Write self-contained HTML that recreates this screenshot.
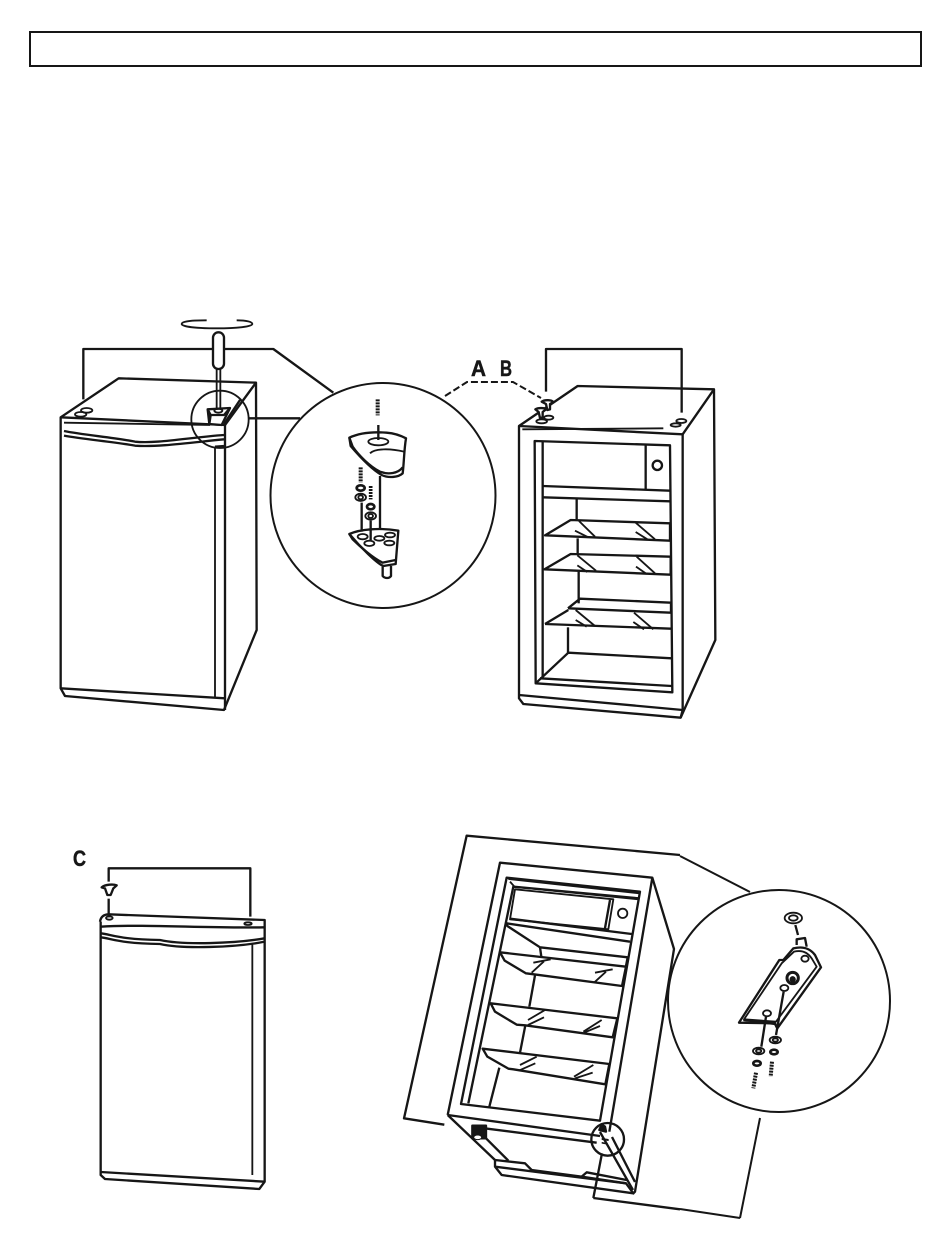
<!DOCTYPE html>
<html><head><meta charset="utf-8"><style>
html,body{margin:0;padding:0;background:#fff;width:950px;height:1248px;overflow:hidden}
svg{display:block}
.z{fill:none;stroke:#161616;stroke-width:7;stroke-linejoin:round;stroke-linecap:butt}
.t{stroke-width:5.5}
.w{fill:#fff}
.k{fill:#161616}
text{font-family:"Liberation Sans",sans-serif;font-weight:bold;fill:#161616;font-size:22px}
</style></head><body>
<svg width="950" height="1248" viewBox="0 0 950 1248" xmlns="http://www.w3.org/2000/svg">
<rect x="30" y="32" width="891" height="34" fill="none" stroke="#161616" stroke-width="2"/>

<!-- Fridge 1 -->
<g class="z" transform="translate(40,300) scale(.33333)">
<path d="M62 352L236 235L648 248L650 990L552 1230L75 1188L62 1165Z"/>
<path d="M62 352L555 375L648 248"/>
<path d="M555 375V1230"/>
<path d="M62 1165L555 1195"/>
<path class="t" d="M525 440V1195"/>
<path class="t" d="M72 368L510 375"/>
<path d="M72 393C130 405 220 412 285 425C350 432 450 412 552 405"/>
<path d="M72 407C130 418 220 425 285 437C350 442 450 428 552 418"/>
<path d="M525 440L552 438"/>
<ellipse class="t" cx="140" cy="331" rx="17" ry="7"/>
<ellipse class="t" cx="122" cy="343" rx="17" ry="7"/>
<path d="M130 298V147H700L880 278"/>
<path d="M625 355H780"/>
<circle cx="540" cy="358" r="86" class="t"/>
<path d="M503 328L570 324L545 375L508 372Z" class="w"/>
<path d="M503 328L512 345L552 345L570 324M512 345L508 372"/>
<ellipse class="t" cx="535" cy="332" rx="12" ry="6"/>
<path d="M552 372L600 300" />
<path class="t" d="M530 205V325M541 205V325"/>
<rect x="519" y="97" width="33" height="110" rx="16" class="w"/>
<path class="t" d="M500 61C440 61 425 66 425 72C425 80 470 85 530 85C590 85 637 80 637 72C637 66 620 61 590 61"/>
</g>

<!-- Circle 1 -->
<circle cx="383" cy="495.5" r="112.5" fill="none" stroke="#161616" stroke-width="2"/>
<g class="z" transform="translate(330,390) scale(.33333)">
<path d="M145 105V150" />
<path stroke-dasharray="6 3" style="stroke-width:12" d="M143 28V76"/>
<path d="M58 143C90 128 130 125 170 128C195 130 215 138 228 145C222 180 222 220 218 250C205 262 175 265 155 255C120 235 85 195 62 168Z"/>
<path d="M58 143L68 170C85 195 120 230 150 245C175 255 205 250 218 232"/>
<ellipse cx="145" cy="155" rx="30" ry="11" class="t"/>
<path class="t" d="M120 190C135 175 180 175 222 185"/>
<path d="M150 258V415"/>
<path stroke-dasharray="6 3" style="stroke-width:12" d="M92 232V278"/>
<ellipse cx="92" cy="294" rx="12" ry="8" style="stroke-width:8"/>
<ellipse cx="92" cy="322" rx="16" ry="11" class="t"/>
<ellipse cx="92" cy="322" rx="7" ry="6" class="t"/>
<path stroke-dasharray="6 3" style="stroke-width:11" d="M122 288V328"/>
<ellipse cx="122" cy="350" rx="11" ry="8" style="stroke-width:8"/>
<ellipse cx="122" cy="378" rx="16" ry="11" class="t"/>
<ellipse cx="122" cy="378" rx="7" ry="6" class="t"/>
<path d="M95 338V425M122 392V450"/>
<path d="M58 432C90 418 150 412 205 422L197 522L160 528C140 520 90 470 58 432Z"/>
<path d="M58 432L68 448C90 470 130 505 158 518L197 510"/>
<ellipse cx="98" cy="440" rx="15" ry="8" class="t"/>
<ellipse cx="118" cy="460" rx="15" ry="8" class="t"/>
<ellipse cx="148" cy="445" rx="15" ry="7" class="t"/>
<ellipse cx="180" cy="435" rx="15" ry="7" class="t"/>
<ellipse cx="178" cy="459" rx="15" ry="7" class="t"/>
<path d="M158 530V558C165 566 178 566 183 558V528"/>
</g>

<!-- dashes + labels -->
<path d="M445 396L467 382H513L541 398" fill="none" stroke="#161616" stroke-width="2" stroke-dasharray="7 3"/>
<text x="471" y="376" textLength="15" lengthAdjust="spacingAndGlyphs" stroke="#161616" stroke-width=".5">A</text>
<text x="500" y="376" textLength="12" lengthAdjust="spacingAndGlyphs" stroke="#161616" stroke-width=".5">B</text>
<text x="73" y="866" textLength="13" lengthAdjust="spacingAndGlyphs" stroke="#161616" stroke-width=".5">C</text>

<!-- Fridge 2 -->
<g class="z" transform="translate(440,340) scale(.33333)">
<path d="M318 155V27H725V218"/>
<path d="M237 258L413 138L822 148L826 900L722 1133L250 1092L237 1075Z"/>
<path d="M237 258L728 283L822 148"/>
<path d="M728 283V1110L722 1133"/>
<path d="M237 1065L728 1110"/>
<path d="M247 268L670 265" class="t"/>
<path d="M284 303L690 316L697 1057L287 1030Z"/>
<path d="M308 305V1015"/>
<path d="M287 1030L385 938L695 955"/>
<path d="M300 1015L695 1038"/>
<path d="M617 316V448"/>
<circle cx="652" cy="376" r="14"/>
<path d="M308 438L690 452M308 472L690 484"/>
<path d="M410 476V538"/>
<path d="M315 586L392 540L690 550V602L315 586Z"/>
<path d="M413 595V640"/>
<path d="M313 688L392 642L692 650V704L313 688Z"/>
<path d="M416 695V790"/>
<path d="M384 805L420 776L693 788V815"/>
<path d="M384 805L693 818"/>
<path d="M315 852L385 810M315 852L693 866"/>
<path d="M384 862V940"/>
<path class="t" d="M417 543L465 590M405 572L445 592M587 548L645 598M587 576L622 598M412 646L468 692M412 676L442 696M590 650L645 700M588 680L620 702M407 810L465 858M407 840L440 860M582 818L640 868M580 846L612 868"/>
<path class="w" d="M305 185C315 178 335 180 340 186L330 192V208L322 210L318 192Z"/>
<path class="w" d="M286 208C295 202 315 204 318 208L308 216V232L300 234L296 216Z"/>
<ellipse class="t w" cx="326" cy="233" rx="14" ry="6"/>
<ellipse class="t w" cx="305" cy="244" rx="16" ry="6"/>
<ellipse class="t" cx="724" cy="243" rx="15" ry="6"/>
<ellipse class="t" cx="707" cy="255" rx="15" ry="5"/>
</g>

<!-- Door -->
<g class="z" transform="translate(50,840) scale(.33333)">
<path d="M176 125V85H601V230"/>
<path d="M155 142C165 133 190 132 200 136L190 145L182 165H172L165 145Z" class="w"/>
<path d="M176 176V232"/>
<path d="M150 245C152 232 160 224 175 223L644 240V1025L628 1047L165 1017L152 1005V245"/>
<path d="M152 260C300 252 450 265 644 262"/>
<path d="M152 280C190 285 210 298 330 300C400 316 560 310 644 295"/>
<path d="M152 292C190 297 210 310 330 312C400 328 560 322 644 305"/>
<ellipse class="t" cx="178" cy="234" rx="10" ry="5"/>
<ellipse class="t" cx="594" cy="251" rx="11" ry="4"/>
<path class="t" d="M607 312V1005"/>
<path d="M152 996L644 1025"/>
</g>

<!-- Fridge 3 -->
<g class="z" transform="translate(400,830) scale(.33333)">
<path d="M133 884L12 865L200 17L840 75"/>
<path d="M143 855L300 98L757 143L628 905"/>
<path d="M757 143L822 357L705 1085L698 1092"/>
<path d="M320 143L720 185L600 872L183 822Z"/>
<path d="M205 820L340 170L716 205"/>
<path class="t" d="M330 155L345 172M340 170L715 208M325 147L718 190"/>
<path d="M345 178L640 208L625 298L330 268Z" class="t"/>
<path d="M630 210L614 300M330 266L695 312M320 280L690 335"/>
<circle cx="668" cy="250" r="14" class="t"/>
<path d="M320 280L322 288L420 352L424 380M420 352L683 382L678 408"/>
<path d="M300 367L678 410L666 468L410 434L378 430L314 392Z"/>
<path d="M405 436L388 530"/>
<path d="M272 520L652 565L638 622L375 586L350 584L285 545Z"/>
<path d="M376 586L360 668"/>
<path d="M248 656L628 702L616 763L340 718L325 716L262 680Z"/>
<path d="M298 713L268 830"/>
<path class="t" d="M400 398L452 388M395 428L432 394M585 428L638 418M582 458L618 425M384 570L435 540M384 585L432 562M550 605L605 570M552 608L600 588M360 705L410 680M356 722L406 700M522 740L580 705M525 745L578 728"/>
<path d="M143 855L600 918M215 890L590 938"/>
<rect x="217" y="887" width="41" height="38" class="k"/>
<ellipse cx="233" cy="922" rx="12" ry="7" fill="#fff" stroke-width="3"/>
<path d="M143 855L285 990M258 925L325 992"/>
<path d="M285 990L375 1000L395 1020L545 1040M285 990V1010L305 1035L700 1090L678 1060L545 1040L560 1027L680 1050"/>
<path d="M600 906L699 1080M636 921L705 1056"/>
<path d="M285 1010L678 1060"/>
<path d="M580 1104L606 970"/>
<path d="M580 1104L840 1138"/>
<circle cx="623" cy="928" r="49"/>
<path class="k" d="M598 900L605 884L615 890L618 905Z"/>
<path class="k" stroke-width="2" d="M606 925L625 928V932L606 929ZM606 937L622 940V943L606 940Z"/>
</g>

<!-- connector end -->
<path d="M680 856L750 892M740 1218L760 1118M680 1209L740 1218" fill="none" stroke="#161616" stroke-width="2"/>

<!-- Circle 2 -->
<circle cx="779" cy="1001" r="111" fill="none" stroke="#161616" stroke-width="2"/>
<g class="z" transform="translate(660,880) scale(.33333)">
<ellipse cx="400" cy="114" rx="26" ry="16" class="t"/>
<ellipse cx="400" cy="114" rx="13" ry="8" class="t"/>
<path d="M406 135L414 165"/>
<path d="M410 195V178L435 174L440 200"/>
<path d="M237 428L358 240L370 240L400 205C430 198 450 205 465 225L483 262L352 445L345 430Z"/>
<path class="t" d="M252 418L365 250L402 215C430 208 445 220 455 235L470 260L348 425Z"/>
<path d="M250 420L345 432M345 432L352 445"/>
<ellipse cx="435" cy="236" rx="11" ry="9" class="t"/>
<ellipse cx="373" cy="324" rx="12" ry="9" class="t"/>
<ellipse cx="321" cy="400" rx="12" ry="9" class="t"/>
<circle cx="398" cy="294" r="17" style="stroke-width:9"/>
<circle cx="398" cy="298" r="6" class="k"/>
<path d="M318 410L304 500M371 335L348 465"/>
<ellipse cx="296" cy="513" rx="17" ry="10" class="t"/>
<ellipse cx="296" cy="513" rx="8" ry="5" class="t"/>
<ellipse cx="346" cy="480" rx="17" ry="10" class="t"/>
<ellipse cx="346" cy="480" rx="8" ry="5" class="t"/>
<ellipse cx="291" cy="550" rx="11" ry="7" style="stroke-width:8"/>
<ellipse cx="342" cy="516" rx="11" ry="7" style="stroke-width:8"/>
<path stroke-dasharray="6 3" style="stroke-width:12" d="M288 578L280 625M336 545L332 590"/>
</g>
</svg>
</body></html>
